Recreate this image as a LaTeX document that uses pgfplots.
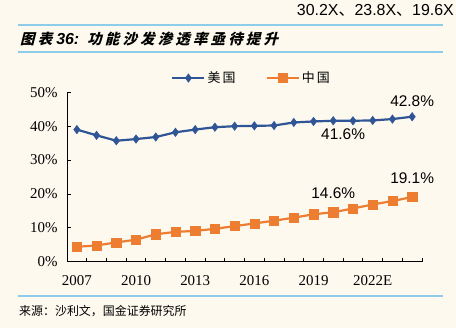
\documentclass[border=0pt]{standalone}
\usepackage{fontspec}
\usepackage{pgfplots}
\pgfplotsset{compat=1.18}
\setmainfont{Liberation Serif}
\newfontfamily\arialf{Liberation Sans}
\newfontfamily\cjk{Noto Sans CJK SC}
\newfontfamily\cjkt[FakeSlant=0.25,LetterSpace=22]{Noto Sans CJK SC}
\definecolor{bgc}{HTML}{FDF9EE}
\definecolor{usblue}{HTML}{2F5597}
\definecolor{cnorange}{HTML}{ED7D31}
\definecolor{rulec}{HTML}{8DCDEB}
\begin{document}
\begin{tikzpicture}[x=1bp,y=1bp]
\fill[bgc] (0,0) rectangle (456,328);
\clip (0,0) rectangle (456,328);
% top text
\node[anchor=base east,inner sep=0pt,font=\arialf\fontsize{16}{16}\selectfont] at (454,313) {30.2X{\cjk 、}23.8X{\cjk 、}19.6X};
\draw[rulec,line width=1.2bp] (18,303) -- (443,303);
\draw[rulec,line width=1.2bp] (18,276) -- (443,276);
\draw[rulec,line width=1.2bp] (18,32) -- (443,32);
\node[anchor=base west,inner sep=0pt] at (20,284) {\cjkt\bfseries\fontsize{14.5}{15}\selectfont 图表\hspace{4bp}{\arialf\itshape\fontsize{16}{16}\selectfont 36:}\hspace{8bp}功能沙发渗透率亟待提升};
\node[anchor=base west,inner sep=0pt] at (19,13) {\cjk\fontsize{12}{12}\selectfont 来源：沙利文，国金证券研究所};
\begin{axis}[
  at={(67bp,66.3bp)}, anchor=south west,
  scale only axis, width=355bp, height=169.4bp,
  xmin=-0.5, xmax=17.5, ymin=0, ymax=50,
  clip=false,
  axis x line*=bottom, axis y line*=left,
  axis line style={black,line width=0.9bp,-},
  xtick={0,3,6,9,12,15},
  xticklabels={2007,2010,2013,2016,2019,2022E},
  major x tick style={draw=none},
  minor xtick={-0.5,0.5,...,17.5},
  minor x tick style={black,line width=0.8bp},
  minor tick length=4bp,
  ytick={0,10,20,30,40,50},
  yticklabel={\pgfmathprintnumber{\tick}\%},
  major tick length=4bp,
  tick align=inside,
  y tick style={black,line width=0.8bp},
  tick label style={font=\fontsize{15}{15}\selectfont},
  /pgf/number format/assume math mode=true,
  xticklabel style={yshift=-10bp},
  yticklabel style={xshift=-6bp},
  legend columns=2,
  legend style={draw=none,fill=none,at={(0.52,1.084)},anchor=center,
    font=\cjk\fontsize{13}{13}\selectfont,
    /tikz/every even column/.append style={column sep=28bp}},
  legend image code/.code={\draw[#1,mark repeat=2,mark phase=2] plot coordinates {(0bp,0bp)(16bp,0bp)(32bp,0bp)};},
]
\addplot[usblue,line width=2.2bp,mark=diamond*,mark size=4.2bp,mark options={solid,fill=usblue,draw=usblue,line width=0.5bp}] coordinates {
(0,39.0)(1,37.3)(2,35.7)(3,36.2)(4,36.8)(5,38.2)(6,39.0)(7,39.7)(8,40.0)(9,40.1)(10,40.2)(11,41.1)(12,41.4)(13,41.6)(14,41.6)(15,41.7)(16,42.1)(17,42.8)};
\addlegendentry{美\,国}
\addplot[cnorange,line width=2.2bp,mark=square*,mark size=4.6bp,mark options={solid,fill=cnorange,draw=cnorange,line width=0.5bp}] coordinates {
(0,4.4)(1,4.8)(2,5.7)(3,6.5)(4,8.1)(5,8.8)(6,9.1)(7,9.7)(8,10.5)(9,11.3)(10,12.1)(11,13.0)(12,14.0)(13,14.6)(14,15.7)(15,16.9)(16,17.9)(17,19.1)};
\addlegendentry{中\,国}
\node[font=\arialf\fontsize{15.5}{15}\selectfont] at (axis cs:17,47.3) {42.8\%};
\node[font=\arialf\fontsize{15.5}{15}\selectfont] at (axis cs:13.5,37.7) {41.6\%};
\node[font=\arialf\fontsize{15.5}{15}\selectfont] at (axis cs:17,24.8) {19.1\%};
\node[font=\arialf\fontsize{15.5}{15}\selectfont] at (axis cs:13,20.1) {14.6\%};
\end{axis}
\end{tikzpicture}
\end{document}
